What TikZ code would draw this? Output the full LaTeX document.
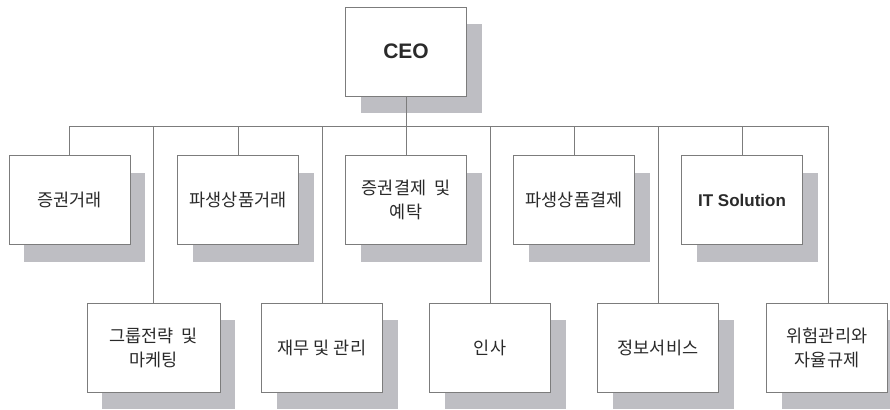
\documentclass[tikz,border=0pt]{standalone}
\usepackage{fontspec}
\setmainfont{Liberation Sans}
\newfontfamily\kr{Noto Sans CJK KR}
\usetikzlibrary{shadows}
\definecolor{linegray}{HTML}{7C7C7C}
\definecolor{shgray}{HTML}{BEBEC3}
\definecolor{txt}{HTML}{2A2A2A}
\tikzset{
  orgbox/.style={draw=linegray, line width=0.9pt, fill=white, minimum width=121pt, minimum height=89pt,
    inner sep=0pt, align=center, text=txt, font=\kr\fontsize{17.5}{24}\selectfont,
    drop shadow={shadow xshift=15pt, shadow yshift=-17pt, fill=shgray, opacity=1, draw=none}},
  enbox/.style={orgbox, font=\bfseries\fontsize{17}{20}\selectfont},
  conn/.style={draw=linegray, line width=0.9pt}
}
\begin{document}
\begin{tikzpicture}[x=1pt, y=-1pt]
\useasboundingbox (0,0) rectangle (890,409);
\coordinate (busL) at (70,126);
\coordinate (busR) at (828,126);
% top row
\node[enbox, font=\bfseries\fontsize{21}{24}\selectfont] (ceo) at (406,51.5) {CEO};
\node[orgbox] (t1) at (69.5,200) {증권거래};
\node[orgbox] (t2) at (238,200) {파생상품거래};
\node[orgbox] (t3) at (406,200) {증권결제~~및\\예탁};
\node[orgbox] (t4) at (574,200) {파생상품결제};
\node[enbox] (t5) at (742,200) {IT Solution};
% bottom row
\node[orgbox, minimum width=133pt] (b1) at (153.5,347.5) {그룹전략~~및\\마케팅};
\node[orgbox] (b2) at (322,347.5) {재무 및 관리};
\node[orgbox] (b3) at (490,347.5) {인사};
\node[orgbox] (b4) at (658,347.5) {정보서비스};
\node[orgbox] (b5) at (827,347.5) {위험관리와\\자율규제};
% lines
\draw[conn] (busL) -- (busR);
\draw[conn] (ceo.south) -- (t3.north);
\foreach \n in {t1,t2,t4,t5}{
  \draw[conn] (\n.north) -- (\n.north |- busL);
}
\foreach \n in {b1,b2,b3,b4}{
  \draw[conn] (\n.north) -- (\n.north |- busL);
}
\draw[conn] (busR) -- (busR |- b5.north);
\end{tikzpicture}
\end{document}
